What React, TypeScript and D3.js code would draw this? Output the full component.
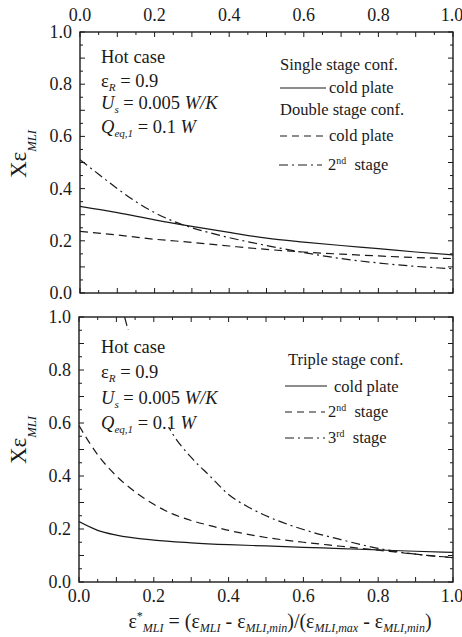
import React from 'react';
import * as d3 from 'd3';

// ---------- DATA ----------
const topXTicks = [0, 0.2, 0.4, 0.6, 0.8, 1.0];
const yTicks = [0, 0.2, 0.4, 0.6, 0.8, 1.0];

// Top panel
const singleColdX = [0, 0.1, 0.2, 0.3, 0.4, 0.5, 0.6, 0.7, 0.8, 0.9, 1.0];
const singleColdY = [0.332, 0.308, 0.28, 0.255, 0.232, 0.21, 0.195, 0.182, 0.17, 0.157, 0.146];
const doubleColdX = [0, 0.1, 0.2, 0.3, 0.4, 0.5, 0.6, 0.7, 0.8, 0.9, 1.0];
const doubleColdY = [0.236, 0.222, 0.206, 0.194, 0.18, 0.167, 0.157, 0.149, 0.142, 0.136, 0.132];
const double2ndX = [0, 0.05, 0.1, 0.15, 0.2, 0.25, 0.3, 0.35, 0.4, 0.5, 0.6, 0.7, 0.8, 0.9, 1.0];
const double2ndY = [0.511, 0.455, 0.4, 0.35, 0.308, 0.275, 0.25, 0.23, 0.212, 0.182, 0.155, 0.132, 0.115, 0.102, 0.093];

// Bottom panel
const tripleColdX = [0, 0.05, 0.1, 0.2, 0.3, 0.4, 0.5, 0.6, 0.7, 0.8, 0.9, 1.0];
const tripleColdY = [0.228, 0.195, 0.177, 0.158, 0.148, 0.141, 0.136, 0.131, 0.126, 0.121, 0.116, 0.112];
const triple2ndX = [0, 0.05, 0.1, 0.15, 0.2, 0.25, 0.3, 0.35, 0.4, 0.5, 0.6, 0.7, 0.8, 0.9, 1.0];
const triple2ndY = [0.59, 0.48, 0.4, 0.34, 0.293, 0.257, 0.232, 0.213, 0.195, 0.168, 0.15, 0.135, 0.12, 0.105, 0.092];
const triple3rdX = [0.122, 0.15, 0.2, 0.25, 0.3, 0.35, 0.4, 0.45, 0.5, 0.6, 0.7, 0.8, 0.9, 1.0];
const triple3rdY = [1.0, 0.86, 0.7, 0.56, 0.47, 0.4, 0.33, 0.285, 0.25, 0.198, 0.16, 0.127, 0.105, 0.092];

const FONT = "'Times New Roman', 'Liberation Serif', Tinos, serif";
const INK = '#1a1a1a';
const DASH = '8,5';
const DASHDOT = '9,4,2,4';

type Seg = { t: string; it?: boolean; sub?: boolean; sup?: boolean };

function Rich({ x, y, segs, fs, anchor = 'start', transform, subShift = 0.22, scriptSize = 0.6 }: {
  x: number; y: number; segs: Seg[]; fs: number; anchor?: string; transform?: string; subShift?: number; scriptSize?: number;
}) {
  let cur = 0;
  return (
    <text x={x} y={y} textAnchor={anchor} transform={transform} style={{ fontFamily: FONT, fontSize: fs, fill: INK, whiteSpace: 'pre' }}>
      {segs.map((s, i) => {
        const target = s.sub ? fs * subShift : s.sup ? -fs * 0.38 : 0;
        const dy = target - cur;
        cur = target;
        return (
          <tspan key={i} dy={dy} style={{ fontSize: s.sub || s.sup ? fs * scriptSize : fs, fontStyle: s.it ? 'italic' : 'normal' }}>
            {s.t}
          </tspan>
        );
      })}
    </text>
  );
}

type Series = { xs: number[]; ys: number[]; dash?: string };

function Panel({ left, right, top, bottom, series, topLabels, bottomLabels, clipId }: {
  left: number; right: number; top: number; bottom: number; series: Series[]; topLabels: boolean; bottomLabels: boolean; clipId: string;
}) {
  const x = d3.scaleLinear().domain([0, 1]).range([left, right]);
  const y = d3.scaleLinear().domain([0, 1]).range([bottom, top]);
  const minor = d3.range(0, 1.0001, 0.05);
  const line = d3.line<[number, number]>().x(d => x(d[0])).y(d => y(d[1])).curve(d3.curveMonotoneX);
  const isMajor = (v: number) => Math.abs(v * 10 - Math.round(v * 10)) < 1e-6;
  const tstyle = { fontFamily: FONT, fontSize: 18, fill: INK };
  return (
    <g>
      <defs>
        <clipPath id={clipId}>
          <rect x={left} y={top} width={right - left} height={bottom - top} />
        </clipPath>
      </defs>
      <g clipPath={`url(#${clipId})`}>
        {series.map((s, i) => (
          <path key={i} d={line(s.xs.map((v, j) => [v, s.ys[j]]) as [number, number][]) || ''} fill="none" stroke={INK} strokeWidth={1.2} strokeDasharray={s.dash} />
        ))}
      </g>
      <rect x={left} y={top} width={right - left} height={bottom - top} fill="none" stroke={INK} strokeWidth={1.4} />
      {minor.map((v, i) => {
        const L = isMajor(v) ? 5 : 3;
        return (
          <g key={i} stroke={INK} strokeWidth={1}>
            <line x1={x(v)} x2={x(v)} y1={bottom} y2={bottom - L} />
            <line x1={x(v)} x2={x(v)} y1={top} y2={top + L} />
            <line x1={left} x2={left + L} y1={y(v)} y2={y(v)} />
            <line x1={right} x2={right - L} y1={y(v)} y2={y(v)} />
          </g>
        );
      })}
      {yTicks.map((v, i) => (
        <text key={i} x={left - 8} y={y(v) + 6} textAnchor="end" style={tstyle}>{v.toFixed(1)}</text>
      ))}
      {topLabels && topXTicks.map((v, i) => (
        <text key={i} x={Math.min(x(v), 452)} y={top - 11} textAnchor="middle" style={tstyle}>{v.toFixed(1)}</text>
      ))}
      {bottomLabels && topXTicks.map((v, i) => (
        <text key={i} x={Math.min(x(v), 452)} y={bottom + 20} textAnchor="middle" style={tstyle}>{v.toFixed(1)}</text>
      ))}
    </g>
  );
}

function Annotation({ x, ys, mask }: { x: number; ys: number[]; mask?: [number, number, number, number] }) {
  const fs = 18.5;
  return (
    <g>
      {mask && <rect x={mask[0]} y={mask[1]} width={mask[2]} height={mask[3]} fill="#fff" />}
      <Rich x={x} y={ys[0]} fs={fs} segs={[{ t: 'Hot case' }]} />
      <Rich x={x} y={ys[1]} fs={fs} segs={[{ t: 'ε' }, { t: 'R', it: true, sub: true }, { t: ' = 0.9' }]} />
      <Rich x={x} y={ys[2]} fs={fs} segs={[{ t: 'U', it: true }, { t: 's', it: true, sub: true }, { t: ' = 0.005 ' }, { t: 'W/K', it: true }]} />
      <Rich x={x} y={ys[3]} fs={fs} segs={[{ t: 'Q', it: true }, { t: 'eq,1', it: true, sub: true }, { t: ' = 0.1 ' }, { t: 'W', it: true }]} />
    </g>
  );
}

function LegendLine({ x1, x2, y, dash }: { x1: number; x2: number; y: number; dash?: string }) {
  return <line x1={x1} x2={x2} y1={y} y2={y} stroke={INK} strokeWidth={1.2} strokeDasharray={dash} />;
}

function YLabel({ cx, cy }: { cx: number; cy: number }) {
  return (
    <Rich x={0} y={0} fs={23} anchor="middle" transform={`translate(${cx},${cy}) rotate(-90)`} subShift={0.45} scriptSize={0.55}
      segs={[{ t: 'X' }, { t: 'ε' }, { t: 'MLI', it: true, sub: true }]} />
  );
}

export default function App() {
  const lfs = 16.5;
  return (
    <svg width={462} height={637} style={{ position: 'absolute', left: 0, top: 0, background: '#fff', fontFamily: FONT }}>
      <rect x={0} y={0} width={462} height={637} fill="#fff" />
      {/* Top panel */}
      <Panel left={80} right={453} top={32} bottom={293} topLabels bottomLabels={false} clipId="c1"
        series={[
          { xs: singleColdX, ys: singleColdY },
          { xs: doubleColdX, ys: doubleColdY, dash: DASH },
          { xs: double2ndX, ys: double2ndY, dash: DASHDOT },
        ]} />
      <Annotation x={101} ys={[63, 87, 109, 133]} />
      <Rich x={280} y={70} fs={lfs} segs={[{ t: 'Single stage conf.' }]} />
      <LegendLine x1={280} x2={326} y={88} />
      <Rich x={329} y={93} fs={lfs} segs={[{ t: 'cold plate' }]} />
      <Rich x={280} y={115} fs={lfs} segs={[{ t: 'Double stage conf.' }]} />
      <LegendLine x1={280} x2={326} y={136} dash="7,5" />
      <Rich x={329} y={141} fs={lfs} segs={[{ t: 'cold plate' }]} />
      <LegendLine x1={279} x2={322} y={165} dash={DASHDOT} />
      <Rich x={328} y={170} fs={lfs} segs={[{ t: '2' }, { t: 'nd', sup: true }, { t: '  stage' }]} />
      <YLabel cx={26} cy={154} />

      {/* Bottom panel */}
      <Panel left={79} right={453} top={317} bottom={582} topLabels={false} bottomLabels clipId="c2"
        series={[
          { xs: tripleColdX, ys: tripleColdY },
          { xs: triple2ndX, ys: triple2ndY, dash: DASH },
          { xs: triple3rdX, ys: triple3rdY, dash: DASHDOT },
        ]} />
      <Annotation x={101} ys={[353, 378, 404, 429]} mask={[96, 330, 160, 97]} />
      <Rich x={288} y={365} fs={lfs} segs={[{ t: 'Triple stage conf.' }]} />
      <LegendLine x1={285} x2={327} y={386} />
      <Rich x={334} y={392} fs={lfs} segs={[{ t: 'cold plate' }]} />
      <LegendLine x1={285} x2={325} y={412} dash="7,5" />
      <Rich x={328} y={417} fs={lfs} segs={[{ t: '2' }, { t: 'nd', sup: true }, { t: '  stage' }]} />
      <LegendLine x1={285} x2={325} y={438} dash={DASHDOT} />
      <Rich x={328} y={443} fs={lfs} segs={[{ t: '3' }, { t: 'rd', sup: true }, { t: '  stage' }]} />
      <YLabel cx={26} cy={440} />

      {/* X axis title */}
      <Rich x={280} y={628} fs={20} anchor="middle"
        segs={[
          { t: 'ε' }, { t: '*', sup: true }, { t: 'MLI', it: true, sub: true },
          { t: ' = (ε' }, { t: 'MLI', it: true, sub: true },
          { t: ' - ε' }, { t: 'MLI,min', it: true, sub: true },
          { t: ')/(ε' }, { t: 'MLI,max', it: true, sub: true },
          { t: ' - ε' }, { t: 'MLI,min', it: true, sub: true },
          { t: ')' },
        ]} />
    </svg>
  );
}
